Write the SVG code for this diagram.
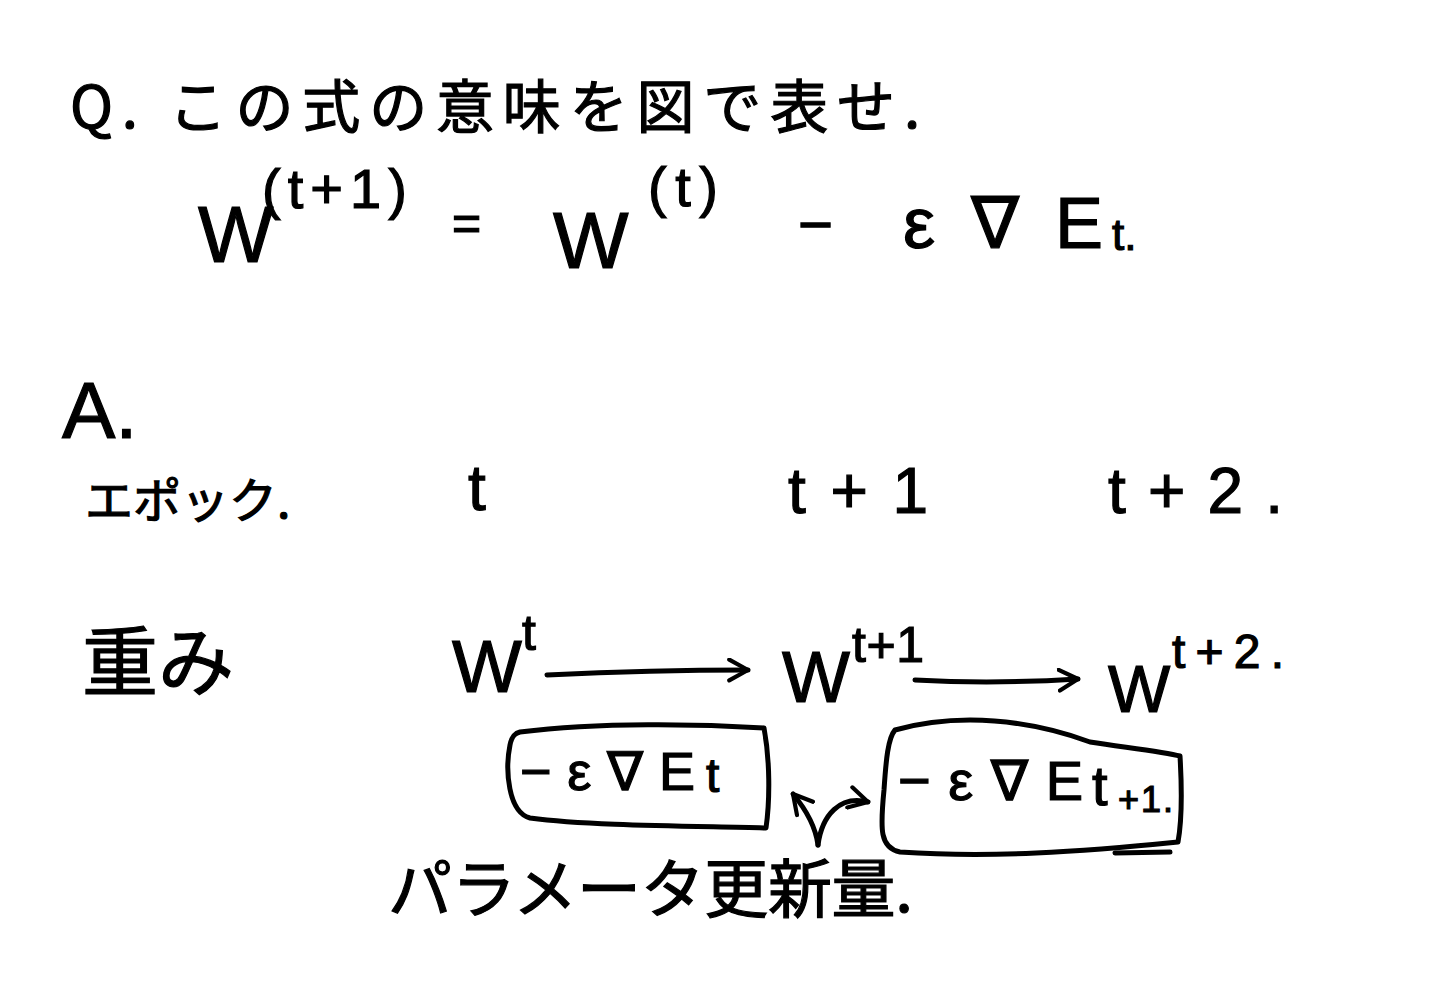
<svg xmlns="http://www.w3.org/2000/svg" width="1451" height="1000" viewBox="0 0 1451 1000">
<defs>
<style>
.jp{font-family:"Noto Sans CJK JP","Liberation Sans",sans-serif;fill:#000;stroke:#000;stroke-width:1.2;}
.m{font-family:"Liberation Sans","DejaVu Sans",sans-serif;fill:#000;stroke:#000;stroke-width:1.2;}
.ln{fill:none;stroke:#000;stroke-width:5;stroke-linecap:round;stroke-linejoin:round;}
</style>
<marker id="ah" viewBox="0 0 12 12" refX="10" refY="6" markerWidth="5" markerHeight="5" orient="auto" markerUnits="strokeWidth">
<path d="M1,1 L10,6 L1,11" fill="none" stroke="#000" stroke-width="2" stroke-linecap="round" stroke-linejoin="round"/>
</marker>
</defs>
<rect width="1451" height="1000" fill="#fff"/>

<g id="question">
<text class="jp" x="70" y="128" font-size="58" textLength="850" lengthAdjust="spacing">Q. この式の意味を図で表せ.</text>
</g>

<g id="formula">
<text class="m" x="198" y="262" font-size="80">W</text>
<text class="m" x="262" y="208" font-size="56" textLength="145" lengthAdjust="spacing">(t+1)</text>
<text class="m" x="452" y="240" font-size="50">=</text>
<text class="m" x="553" y="268" font-size="80">W</text>
<text class="m" x="648" y="206" font-size="56" textLength="70" lengthAdjust="spacing">(t)</text>
<text class="m" x="798" y="245" font-size="60">−</text>
<text class="m" x="903" y="248" font-size="72" textLength="200" lengthAdjust="spacing">ε∇E</text>
<text class="m" x="1112" y="250" font-size="44">t.</text>
</g>

<g id="answer">
<text class="m" x="62" y="438" font-size="80">A.</text>
</g>

<g id="epoch-label">
<text class="jp" x="85" y="518" font-size="48">エポック.</text>
</g>
<g id="epoch-t"><text class="m" x="468" y="510" font-size="64">t</text></g>
<g id="epoch-t1"><text class="m" x="788" y="513" font-size="64" textLength="140" lengthAdjust="spacing">t+1</text></g>
<g id="epoch-t2"><text class="m" x="1108" y="513" font-size="64" textLength="175" lengthAdjust="spacing">t+2.</text></g>

<g id="weight-label">
<text class="jp" x="82" y="690" font-size="76">重み</text>
</g>

<g id="w-t">
<text class="m" x="452" y="692" font-size="74">W</text>
<text class="m" x="522" y="650" font-size="50">t</text>
</g>
<g id="w-t1">
<text class="m" x="782" y="702" font-size="72">W</text>
<text class="m" x="852" y="662" font-size="50" textLength="72" lengthAdjust="spacing">t+1</text>
</g>
<g id="w-t2">
<text class="m" x="1108" y="712" font-size="66">W</text>
<text class="m" x="1172" y="668" font-size="48" textLength="112" lengthAdjust="spacing">t+2.</text>
</g>

<g id="update-t">
<path class="ln" d="M520,732 C600,722 700,724 764,728 C770,760 770,800 766,828 C690,826 590,826 530,818 C508,812 505,770 510,745 C512,735 516,733 520,732 Z"/>
<text class="m" x="520" y="790" font-size="54" textLength="175" lengthAdjust="spacing">−ε∇E</text>
<text class="m" x="706" y="792" font-size="48">t</text>
</g>

<g id="update-t1">
<path class="ln" d="M895,730 C960,712 1030,720 1090,742 C1130,748 1165,752 1180,756 C1182,790 1182,820 1178,842 C1080,852 990,858 900,852 C880,848 880,830 884,790 C886,760 888,738 895,730 Z"/>
<text class="m" x="898" y="800" font-size="56" textLength="185" lengthAdjust="spacing">−ε∇E</text>
<text class="m" x="1092" y="805" font-size="56">t</text>
<text class="m" x="1118" y="812" font-size="36" textLength="55" lengthAdjust="spacing">+1.</text>
<path class="ln" d="M1115,853 L1170,852"/>
</g>

<g id="param-label">
<text class="jp" x="388" y="912" font-size="64" textLength="525" lengthAdjust="spacing">パラメータ更新量.</text>
</g>

<g id="connectors">
<path class="ln" d="M547,675 C610,672 680,670 748,670" marker-end="url(#ah)"/>
<path class="ln" d="M915,680 C970,683 1030,682 1078,679" marker-end="url(#ah)"/>
<path class="ln" d="M818,845 C816,830 808,812 793,794" marker-end="url(#ah)"/>
<path class="ln" d="M818,845 C822,815 840,795 868,802" marker-end="url(#ah)"/>
</g>
</svg>
